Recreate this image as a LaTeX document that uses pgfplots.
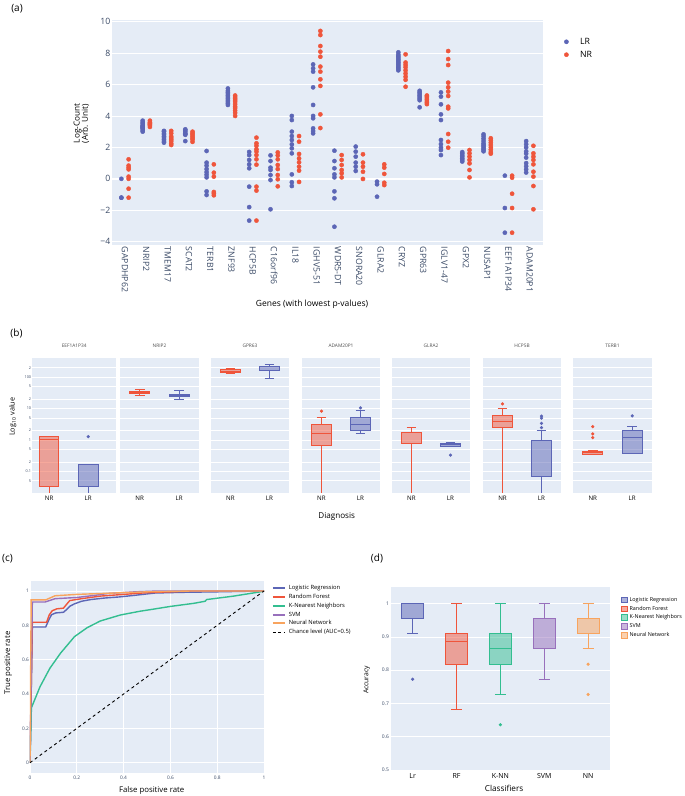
\documentclass[border=0pt]{standalone}
\usepackage{fontspec}
\setmainfont{Open Sans}
\usepackage{pgfplots}
\usepackage{pgfplotstable}
\pgfplotsset{compat=1.18}
\usepgfplotslibrary{statistics}

\definecolor{bgc}{HTML}{E5ECF6}
\definecolor{lrc}{HTML}{5C66B6}
\definecolor{nrc}{HTML}{EF553B}
\definecolor{knnc}{HTML}{33BE90}
\definecolor{svmc}{HTML}{9870BC}
\definecolor{nnc}{HTML}{F8A45E}
\definecolor{tickc}{HTML}{3A4A66}

\newcommand{\fs}[1]{\fontsize{#1}{#1}\selectfont}

\pgfplotsset{
  plotly/.style={
    scale only axis, anchor=south west,
    axis background/.style={fill=bgc},
    axis line style={draw=none},
    major tick length=0pt, minor tick length=0pt,
    ymajorgrids,
    grid style={white, line width=0.8pt},
    /pgf/number format/assume math mode=true,
    tick label style={text=tickc},
  },
  bx/.style={
    boxplot/draw direction=y,
    color=#1, line width=0.9pt,
    boxplot/every box/.style={fill=#1, fill opacity=0.5},
    boxplot/box extend=0.5,
    boxplot/whisker extend=0.25,
    mark=*, mark size=1.1pt,
    mark options={draw=none, fill=#1, fill opacity=1},
  },
  % panel (b): values are log10 of the expression value
  bpanel/.style={
    plotly,
    ymin=-1.69, ymax=2.61,
    height=135pt,
    xmin=-0.5, xmax=1.5,
    xtick={0,1}, xticklabels={NR,LR},
    xticklabel style={font=\fs{6.2}, text=black},
    ytick={-1.699,-1.301,-1,-0.699,-0.301,0,0.301,0.699,1,1.301,1.699,2,2.301},
    yticklabels={},
    grid style={white, line width=0.6pt},
    title style={font=\fs{4.8}, text=black!70, at={(0.5,1)}, anchor=south, yshift=0.5pt},
  },
  rocleg/.style={legend image code/.code={\draw[#1] (0pt,0pt) -- (11.6pt,0pt);}},
  boxleg/.style={legend image code/.code={\draw[draw=#1, fill=#1, fill opacity=0.5, line width=0.7pt] (0pt,-2.8pt) rectangle (6.7pt,2.8pt);}},
}

% log-count per gene (a)
\pgfplotstableread{
g v
0 0.0
0 -1.2
0 -1.2
1 3.0
1 3.1
1 3.2
1 3.25
1 3.3
1 3.35
1 3.4
1 3.5
1 3.6
1 3.7
2 2.3
2 2.4
2 2.5
2 2.6
2 2.7
2 2.8
2 2.9
2 3.0
2 3.05
3 2.4
3 2.8
3 2.85
3 2.9
3 3.0
3 3.1
3 3.15
4 1.77
4 1.03
4 0.84
4 0.62
4 0.43
4 0.26
4 0.09
4 -0.8
4 -1.03
5 4.7
5 4.8
5 4.9
5 5.0
5 5.1
5 5.2
5 5.3
5 5.4
5 5.5
5 5.6
5 5.75
6 1.71
6 1.51
6 1.2
6 0.92
6 0.67
6 -0.5
6 -1.8
6 -2.66
7 1.49
7 1.13
7 0.71
7 0.56
7 0.24
7 -0.08
7 -1.94
8 4.0
8 3.74
8 3.0
8 2.72
8 2.47
8 2.19
8 1.94
8 1.62
8 0.28
8 -0.22
8 -0.46
9 7.28
9 7.03
9 6.82
9 5.82
9 4.7
9 4.0
9 3.85
9 3.21
9 3.04
9 2.89
10 1.79
10 1.13
10 0.67
10 0.28
10 0.09
10 -0.8
10 -1.24
10 -3.05
11 2.05
11 1.73
11 1.41
11 1.03
11 0.77
11 0.5
12 -0.18
12 -0.35
12 -1.14
13 6.9
13 7.0
13 7.1
13 7.2
13 7.3
13 7.4
13 7.5
13 7.6
13 7.7
13 7.8
13 7.9
13 8.05
14 5.0
14 5.1
14 5.2
14 5.3
14 5.4
14 5.5
14 5.6
14 4.55
15 5.5
15 5.23
15 4.74
15 4.1
15 3.74
15 2.47
15 2.21
15 1.98
15 1.83
15 1.51
16 1.1
16 1.2
16 1.3
16 1.4
16 1.5
16 1.6
16 1.7
17 1.75
17 1.85
17 1.95
17 2.05
17 2.15
17 2.25
17 2.4
17 2.55
17 2.7
17 2.83
18 0.2
18 -1.86
18 -3.43
19 2.4
19 2.2
19 2.0
19 1.75
19 1.6
19 1.35
19 1.0
19 0.8
19 0.6
19 0.4
}\lrdata

\pgfplotstableread{
g v
0 1.24
0 0.84
0 0.71
0 0.6
0 0.14
0 0.0
0 -0.63
0 -1.2
1 3.3
1 3.4
1 3.45
1 3.5
1 3.55
1 3.6
1 3.7
2 2.15
2 2.25
2 2.4
2 2.5
2 2.6
2 2.7
2 2.9
2 3.05
3 2.35
3 2.5
3 2.6
3 2.7
3 2.8
3 2.9
3 3.0
4 0.92
4 0.39
4 0.14
4 -0.84
4 -0.93
4 -1.05
5 4.0
5 4.2
5 4.35
5 4.5
5 4.6
5 4.75
5 4.9
5 5.0
5 5.1
5 5.2
5 5.3
6 2.62
6 2.26
6 2.1
6 1.88
6 1.73
6 1.51
6 1.24
6 0.9
6 -0.5
6 -0.75
6 -2.66
7 1.68
7 1.49
7 1.24
7 0.88
7 0.62
7 0.24
7 -0.03
7 -0.48
8 2.72
8 2.36
8 1.58
8 1.3
8 1.05
8 0.77
8 0.52
8 -0.2
9 9.41
9 9.15
9 8.45
9 8.09
9 7.77
9 7.14
9 6.82
9 6.33
9 5.91
9 4.1
9 3.23
10 1.51
10 1.2
10 0.88
10 0.56
10 0.35
10 0.09
11 1.56
11 1.03
11 0.77
11 0.45
11 -0.01
12 0.92
12 0.71
12 0.31
12 -0.25
12 -0.4
13 7.92
13 7.4
13 7.25
13 7.1
13 6.9
13 6.7
13 6.5
13 6.3
13 5.86
14 4.75
14 4.85
14 4.95
14 5.05
14 5.15
14 5.25
14 5.3
15 8.13
15 7.62
15 7.24
15 6.12
15 5.82
15 5.55
15 5.27
15 4.59
15 4.48
15 2.85
15 2.36
15 1.98
16 1.83
16 1.62
16 1.41
16 1.2
16 0.98
16 0.56
16 0.09
17 1.6
17 1.7
17 1.85
17 2.0
17 2.15
17 2.3
17 2.45
17 2.58
18 0.2
18 0.07
18 -0.95
18 -1.86
18 -3.43
19 2.1
19 1.62
19 1.41
19 1.2
19 0.92
19 0.45
19 0.14
19 -0.46
19 -1.94
}\nrdata

\begin{document}
\begin{tikzpicture}
\useasboundingbox (0,0) rectangle (685pt,796pt);

% ---------------- (a)
\node[font=\fs{10}] at (17pt,787pt) {(a)};
\begin{axis}[plotly,
    at={(112pt,551.2pt)}, width=431pt, height=224.7pt,
    xmin=-0.61, xmax=19.62, ymin=-4.2, ymax=10.1,
    ytick={-4,-2,0,2,4,6,8,10},
    yticklabels={−4,−2,0,2,4,6,8,10},
    yticklabel style={font=\fs{8.7}, inner xsep=1.5pt},
    xtick={0,...,19},
    xticklabels={GAPDHP62,NRIP2,TMEM17,SCAT2,TERB1,ZNF93,HCP5B,C16orf96,IL18,IGHV5-51,WDR5-DT,SNORA20,GLRA2,CRYZ,GPR63,IGLV1-47,GPX2,NUSAP1,EEF1A1P34,ADAM20P1},
    xticklabel style={font=\fs{8.7}, rotate=-90, anchor=west, inner xsep=2pt},
    extra y ticks={0}, extra y tick labels={},
    extra y tick style={grid style={white, line width=1.6pt}},
    xlabel={Genes (with lowest p-values)},
    xlabel style={font=\fs{8.5}, at={(axis description cs:0.464,-0.267)}, anchor=center},
    ylabel={Log-Count\\(Arb. Unit)},
    ylabel style={font=\fs{8.2}, align=center, at={(axis description cs:-0.071,0.54)}, anchor=center, rotate=0},
    legend style={at={(1.049,0.925)}, anchor=north west, draw=none, fill=none,
      inner sep=0pt, font=\fs{8.7}, row sep=3.6pt,
      nodes={inner sep=0.5pt, text height=6.5pt, text depth=1.8pt}},
    legend cell align=left,
    legend image code/.code={\draw[#1] plot coordinates {(0pt,0pt)};},
    /tikz/every odd column/.append style={column sep=11pt},
  ]
  \addplot[only marks, color=lrc, mark=*, mark size=2.1pt, mark options={draw=none, fill=lrc}]
    table[x expr=\thisrow{g}-0.17, y=v] {\lrdata};
  \addplot[only marks, color=nrc, mark=*, mark size=2.1pt, mark options={draw=none, fill=nrc}]
    table[x expr=\thisrow{g}+0.17, y=v] {\nrdata};
  \legend{LR,NR}
\end{axis}

% ---------------- (b)
\node[font=\fs{10}] at (16.5pt,463pt) {(b)};
\begin{axis}[bpanel, at={(32.3pt,303pt)}, width=83.7pt,
    xmin=-0.43, xmax=1.71, title={EEF1A1P34},
    yticklabels={2,5,0.1,2,5,1,2,5,10,2,5,100,2},
    yticklabel style={font=\fs{3.8}, inner xsep=1pt},
    ylabel={Log\textsubscript{10} value},
    ylabel style={font=\fs{7.2}, at={(axis description cs:-0.234,0.565)}, anchor=center}]
  \addplot[bx=nrc, boxplot prepared={lower whisker=-1.82, lower quartile=-1.469, median=0, upper quartile=0.104, upper whisker=0.104, draw position=0}] coordinates {};
  \addplot[bx=lrc, boxplot prepared={lower whisker=-1.82, lower quartile=-1.469, median=-1.469, upper quartile=-0.79, upper whisker=-0.79, draw position=1}] coordinates {(1,0.104)};
\end{axis}
\begin{axis}[bpanel, at={(120pt,303pt)}, width=79pt, title={NRIP2}]
  \addplot[bx=nrc, boxplot prepared={lower whisker=1.431, lower quartile=1.474, median=1.505, upper quartile=1.548, upper whisker=1.6, draw position=0}] coordinates {};
  \addplot[bx=lrc, boxplot prepared={lower whisker=1.301, lower quartile=1.4, median=1.431, upper quartile=1.462, upper whisker=1.568, draw position=1}] coordinates {};
\end{axis}
\begin{axis}[bpanel, at={(211pt,303pt)}, width=78pt, title={GPR63}]
  \addplot[bx=nrc, boxplot prepared={lower whisker=2.104, lower quartile=2.146, median=2.19, upper quartile=2.23, upper whisker=2.283, draw position=0}] coordinates {};
  \addplot[bx=lrc, boxplot prepared={lower whisker=1.968, lower quartile=2.21, median=2.225, upper quartile=2.346, upper whisker=2.42, draw position=1}] coordinates {};
\end{axis}
\begin{axis}[bpanel, at={(302pt,303pt)}, width=78pt, title={ADAM20P1},
    xlabel={Diagnosis},
    xlabel style={font=\fs{8.1}, at={(axis description cs:0.445,-0.176)}, anchor=center}]
  \addplot[bx=nrc, boxplot prepared={lower whisker=-1.82, lower quartile=-0.189, median=0.2, upper quartile=0.484, upper whisker=0.705, draw position=0}] coordinates {(0,0.916)};
  \addplot[bx=lrc, boxplot prepared={lower whisker=0.2, lower quartile=0.316, median=0.484, upper quartile=0.726, upper whisker=0.947, draw position=1}] coordinates {(1,1.021)};
\end{axis}
\begin{axis}[bpanel, at={(392pt,303pt)}, width=78pt, title={GLRA2}]
  \addplot[bx=nrc, boxplot prepared={lower whisker=-1.82, lower quartile=-0.116, median=0.232, upper quartile=0.232, upper whisker=0.39, draw position=0}] coordinates {};
  \addplot[bx=lrc, boxplot prepared={lower whisker=-0.21, lower quartile=-0.21, median=-0.155, upper quartile=-0.116, upper whisker=-0.081, draw position=1}] coordinates {(1,-0.484)};
\end{axis}
\begin{axis}[bpanel, at={(483pt,303pt)}, width=78pt, title={HCP5B}]
  \addplot[bx=nrc, boxplot prepared={lower whisker=-1.82, lower quartile=0.39, median=0.579, upper quartile=0.768, upper whisker=0.99, draw position=0}] coordinates {(0,1.147)};
  \addplot[bx=lrc, boxplot prepared={lower whisker=-1.82, lower quartile=-1.147, median=-1.147, upper quartile=-0.02, upper whisker=0.305, draw position=1}] coordinates {(1,0.76) (1,0.695) (1,0.528) (1,0.39)};
\end{axis}
\begin{axis}[bpanel, at={(573pt,303pt)}, width=79pt, title={TERB1}]
  \addplot[bx=nrc, boxplot prepared={lower whisker=-0.453, lower quartile=-0.453, median=-0.409, upper quartile=-0.368, upper whisker=-0.347, draw position=0}] coordinates {(0,0.421) (0,0.19) (0,0.074)};
  \addplot[bx=lrc, boxplot prepared={lower whisker=-0.444, lower quartile=-0.444, median=0.095, upper quartile=0.305, upper whisker=0.442, draw position=1}] coordinates {(1,0.768)};
\end{axis}

% ---------------- (c)
\node[font=\fs{10}] at (7.5pt,237pt) {(c)};
\begin{axis}[plotly, xmajorgrids,
    at={(30pt,23.3pt)}, width=234pt, height=191.7pt,
    xmin=0, xmax=1, ymin=-0.058, ymax=1.058,
    xtick={0,0.2,0.4,0.6,0.8,1}, xticklabels={0,0.2,0.4,0.6,0.8,1},
    ytick={0,0.2,0.4,0.6,0.8,1}, yticklabels={0,0.2,0.4,0.6,0.8,1},
    tick label style={font=\fs{4.8}},
    yticklabel style={inner xsep=1pt},
    xlabel={False positive rate},
    xlabel style={font=\fs{7.8}, at={(axis description cs:0.52,-0.095)}, anchor=center},
    ylabel={True positive rate},
    ylabel style={font=\fs{7.8}, at={(axis description cs:-0.093,0.572)}, anchor=center},
    legend style={at={(1.033,0.982)}, anchor=north west, draw=none, fill=none,
      inner sep=0pt, font=\fs{5.8}, row sep=2.6pt,
      nodes={inner sep=0.3pt, text height=4.4pt, text depth=1.3pt}},
    legend cell align=left,
    /tikz/every odd column/.append style={column sep=3pt},
  ]
  \addlegendimage{rocleg={lrc, line width=2pt}}
  \addlegendentry{Logistic Regression}
  \addlegendimage{rocleg={nrc, line width=2pt}}
  \addlegendentry{Random Forest}
  \addlegendimage{rocleg={knnc, line width=2pt}}
  \addlegendentry{K-Nearest Neighbors}
  \addlegendimage{rocleg={svmc, line width=2pt}}
  \addlegendentry{SVM}
  \addlegendimage{rocleg={nnc, line width=2pt}}
  \addlegendentry{Neural Network}
  \addlegendimage{rocleg={black, line width=1pt, dash pattern=on 3pt off 2.5pt}}
  \addlegendentry{Chance level (AUC=0.5)}

  \addplot[lrc, line width=1.4pt] coordinates {
    (0,0) (0.01,0.79) (0.067,0.79) (0.08,0.83) (0.092,0.862) (0.11,0.872) (0.143,0.876)
    (0.155,0.89) (0.17,0.911) (0.19,0.925) (0.22,0.94) (0.26,0.95) (0.32,0.959)
    (0.38,0.965) (0.45,0.975) (0.534,0.988) (0.65,0.992) (0.8,0.995) (1,1)};
  \addplot[nrc, line width=1.4pt] coordinates {
    (0,0) (0.01,0.818) (0.071,0.818) (0.082,0.86) (0.095,0.885) (0.115,0.896) (0.143,0.90)
    (0.155,0.92) (0.17,0.944) (0.22,0.955) (0.3,0.97) (0.4,0.98) (0.5,0.99) (0.7,1) (1,1)};
  \addplot[knnc, line width=1.4pt] coordinates {
    (0,0) (0.006,0.32) (0.043,0.443) (0.085,0.55) (0.13,0.637) (0.19,0.734) (0.244,0.786)
    (0.30,0.825) (0.386,0.86) (0.47,0.882) (0.513,0.891) (0.6,0.91) (0.7,0.928)
    (0.748,0.94) (0.755,0.95) (0.87,0.97) (0.98,0.994) (1,1)};
  \addplot[svmc, line width=1.4pt] coordinates {
    (0,0) (0.01,0.936) (0.065,0.936) (0.107,0.955) (0.2,0.962) (0.28,0.975) (0.33,0.985)
    (0.45,0.995) (0.55,1) (1,1)};
  \addplot[nnc, line width=1.4pt] coordinates {
    (0,0) (0.005,0.948) (0.067,0.948) (0.107,0.972) (0.2,0.98) (0.3,0.985) (0.4,0.99)
    (0.5,0.995) (0.7,1) (1,1)};
  \addplot[black, line width=0.9pt, dash pattern=on 3pt off 3pt] coordinates {(0,0) (1,1)};
\end{axis}

% ---------------- (d)
\node[font=\fs{10}] at (377pt,238pt) {(d)};
\begin{axis}[plotly,
    at={(390.7pt,26pt)}, width=219.3pt, height=183pt,
    xmin=-0.5, xmax=4.5, ymin=0.5, ymax=1.05,
    ytick={0.5,0.6,0.7,0.8,0.9,1}, yticklabels={0.5,0.6,0.7,0.8,0.9,1},
    yticklabel style={font=\fs{5}, inner xsep=1.5pt},
    xtick={0,...,4}, xticklabels={Lr,RF,K-NN,SVM,NN},
    xticklabel style={font=\fs{7}, text=black},
    xlabel={Classifiers},
    xlabel style={font=\fs{8.2}, at={(axis description cs:0.517,-0.1)}, anchor=center},
    ylabel={Accuracy},
    ylabel style={font=\fs{6.8}, at={(axis description cs:-0.109,0.492)}, anchor=center},
    legend style={at={(1.048,0.948)}, anchor=north west, draw=none, fill=none,
      inner sep=0pt, font=\fs{5.4}, row sep=2.5pt,
      nodes={inner sep=0.3pt, text height=4.2pt, text depth=1.2pt}},
    legend cell align=left,
    /tikz/every odd column/.append style={column sep=1.2pt},
  ]
  \addlegendimage{boxleg=lrc}
  \addlegendentry{Logistic Regression}
  \addlegendimage{boxleg=nrc}
  \addlegendentry{Random Forest}
  \addlegendimage{boxleg=knnc}
  \addlegendentry{K-Nearest Neighbors}
  \addlegendimage{boxleg=svmc}
  \addlegendentry{SVM}
  \addlegendimage{boxleg=nnc}
  \addlegendentry{Neural Network}

  \addplot[bx=lrc, boxplot prepared={lower whisker=0.909, lower quartile=0.955, median=1.0, upper quartile=1.0, upper whisker=1.0, draw position=0}] coordinates {(0,0.773)};
  \addplot[bx=nrc, boxplot prepared={lower whisker=0.682, lower quartile=0.818, median=0.886, upper quartile=0.909, upper whisker=1.0, draw position=1}] coordinates {};
  \addplot[bx=knnc, boxplot prepared={lower whisker=0.727, lower quartile=0.818, median=0.864, upper quartile=0.909, upper whisker=1.0, draw position=2}] coordinates {(2,0.636)};
  \addplot[bx=svmc, boxplot prepared={lower whisker=0.773, lower quartile=0.864, median=0.864, upper quartile=0.955, upper whisker=1.0, draw position=3}] coordinates {};
  \addplot[bx=nnc, boxplot prepared={lower whisker=0.864, lower quartile=0.909, median=0.955, upper quartile=0.955, upper whisker=1.0, draw position=4}] coordinates {(4,0.818) (4,0.727)};
\end{axis}
\end{tikzpicture}
\end{document}
